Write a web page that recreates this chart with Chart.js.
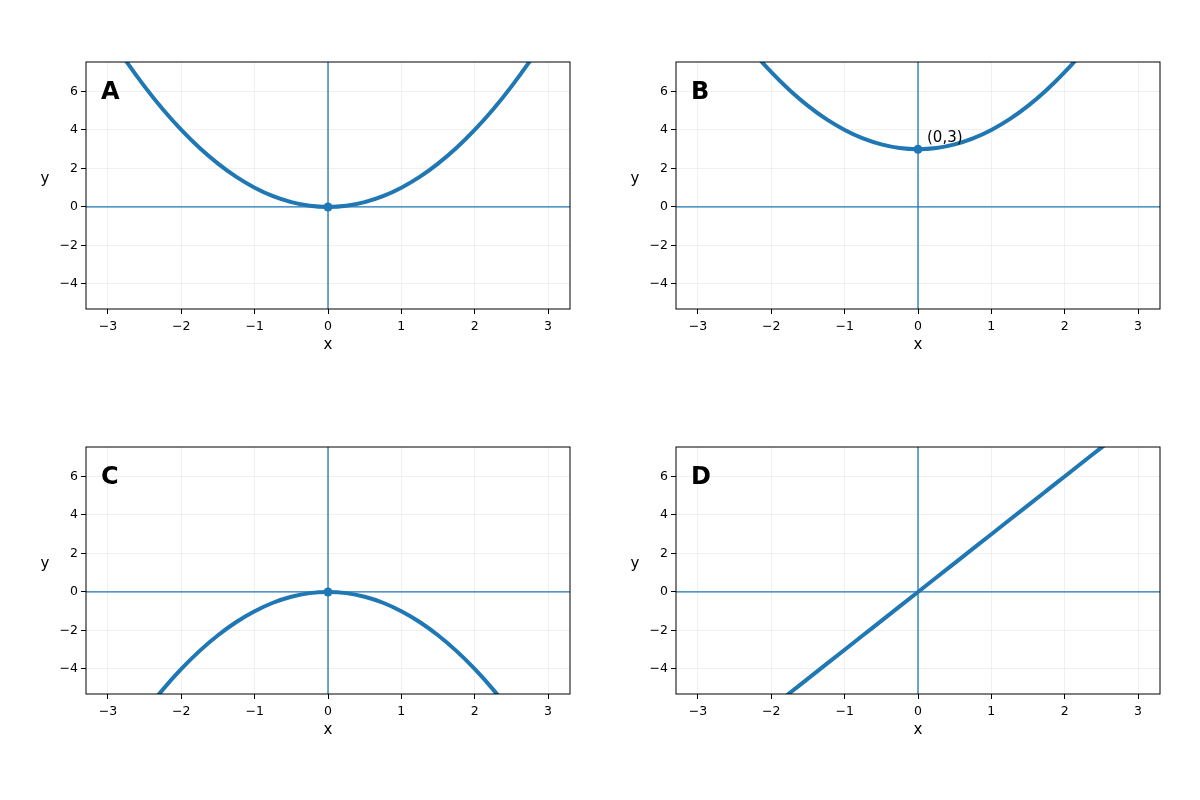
<!DOCTYPE html>
<html>
<head>
<meta charset="utf-8">
<script src="https://cdn.jsdelivr.net/npm/chart.js@4"></script>
<style>
  body { margin: 0; background: #fff; }
  #wrap { position: relative; width: 1200px; height: 800px; }
  .panel { position: absolute; width: 590px; height: 385px; }
</style>
</head>
<body>
<div id="wrap">
  <div class="panel" style="left:0px;top:0px"><canvas id="cA" width="590" height="385"></canvas></div>
  <div class="panel" style="left:590px;top:0px"><canvas id="cB" width="590" height="385"></canvas></div>
  <div class="panel" style="left:0px;top:385px"><canvas id="cC" width="590" height="385"></canvas></div>
  <div class="panel" style="left:590px;top:385px"><canvas id="cD" width="590" height="385"></canvas></div>
</div>
<script>
// sample points
const xs = [-3.25, -3, -2.75, -2.5, -2.25, -2, -1.75, -1.5, -1.25, -1, -0.75, -0.5, -0.25, 0,
            0.25, 0.5, 0.75, 1, 1.25, 1.5, 1.75, 2, 2.25, 2.5, 2.75, 3, 3.25];
const yA = [10.56, 9, 7.56, 6.25, 5.06, 4, 3.06, 2.25, 1.56, 1, 0.56, 0.25, 0.06, 0,
            0.06, 0.25, 0.56, 1, 1.56, 2.25, 3.06, 4, 5.06, 6.25, 7.56, 9, 10.56];
const yB = [13.56, 12, 10.56, 9.25, 8.06, 7, 6.06, 5.25, 4.56, 4, 3.56, 3.25, 3.06, 3,
            3.06, 3.25, 3.56, 4, 4.56, 5.25, 6.06, 7, 8.06, 9.25, 10.56, 12, 13.56];
const yC = [-10.56, -9, -7.56, -6.25, -5.06, -4, -3.06, -2.25, -1.56, -1, -0.56, -0.25, -0.06, 0,
            -0.06, -0.25, -0.56, -1, -1.56, -2.25, -3.06, -4, -5.06, -6.25, -7.56, -9, -10.56];
const yD = [-9.75, -9, -8.25, -7.5, -6.75, -6, -5.25, -4.5, -3.75, -3, -2.25, -1.5, -0.75, 0,
            0.75, 1.5, 2.25, 3, 3.75, 4.5, 5.25, 6, 6.75, 7.5, 8.25, 9, 9.75];

const xTicks = [-3, -2, -1, 0, 1, 2, 3];
const yTicks = [-4, -2, 0, 2, 4, 6];
const xLimits = [-3.3, 3.3];
const yLimits = [-5.3, 7.53];

const letters = ['A', 'B', 'C', 'D'];
const seriesList = [yA, yB, yC, yD];
const vertices = [[0, 0], [0, 3], [0, 0], null];
const notes = [null, '(0,3)', null, null];

const blue = '#1f77b4';
const font = 'DejaVu Sans';

const decor = {
  id: 'decor',
  afterDraw(chart) {
    const ctx = chart.ctx;
    const a = chart.chartArea;
    const o = chart.options.plugins.decor;
    ctx.save();
    ctx.strokeStyle = '#000';
    ctx.lineWidth = 1;
    ctx.strokeRect(a.left, a.top, a.right - a.left, a.bottom - a.top);
    ctx.fillStyle = '#000';
    ctx.font = 'bold 24px "' + font + '"';
    ctx.textAlign = 'left';
    ctx.textBaseline = 'alphabetic';
    ctx.fillText(o.letter, a.left + 15, a.top + 36.5);
    ctx.font = '15px "' + font + '"';
    ctx.textAlign = 'center';
    ctx.textBaseline = 'middle';
    ctx.fillText('x', (a.left + a.right) / 2, a.bottom + 36.5);
    ctx.fillText('y', a.left - 41, (a.top + a.bottom) / 2 - 6);
    if (o.note) {
      const px = chart.scales.x.getPixelForValue(o.vertex[0]);
      const py = chart.scales.y.getPixelForValue(o.vertex[1]);
      ctx.textAlign = 'left';
      ctx.textBaseline = 'alphabetic';
      ctx.fillText(o.note, px + 9, py - 7);
    }
    ctx.restore();
  }
};

function minusSign(v) { return String(v).replace('-', '\u2212'); }

function makePanel(id, i) {
  const ys = seriesList[i];
  const datasets = [
    {
      data: xs.map((x, k) => ({x: x, y: ys[k]})),
      borderColor: blue, borderWidth: 4, pointRadius: 0,
      tension: 0.4, cubicInterpolationMode: 'monotone', clip: 0, order: 1
    },
    {
      data: xLimits.map(x => ({x: x, y: 0})),
      borderColor: blue, borderWidth: 1.3, pointRadius: 0, clip: 0, order: 2
    },
    {
      data: yLimits.map(y => ({x: 0, y: y})),
      borderColor: blue, borderWidth: 1.3, pointRadius: 0, clip: 0, order: 2
    }
  ];
  if (vertices[i]) {
    datasets.push({
      data: [{x: vertices[i][0], y: vertices[i][1]}],
      showLine: false, pointRadius: 4.5, pointBackgroundColor: blue,
      pointBorderColor: blue, pointBorderWidth: 0, order: 0
    });
  }
  new Chart(document.getElementById(id), {
    type: 'line',
    data: {datasets: datasets},
    plugins: [decor],
    options: {
      responsive: false,
      animation: false,
      layout: {padding: {top: 62, left: 0, right: 20, bottom: 16}},
      plugins: {
        legend: {display: false},
        tooltip: {enabled: false},
        decor: {letter: letters[i], note: notes[i], vertex: vertices[i]}
      },
      scales: {
        x: {
          type: 'linear', min: xLimits[0], max: xLimits[1],
          afterBuildTicks: s => { s.ticks = xTicks.map(v => ({value: v})); },
          afterFit: s => { s.height = 60; },
          border: {display: false},
          grid: {color: '#ececec', lineWidth: 0.8, tickColor: '#000', tickLength: 5, tickWidth: 1},
          ticks: {color: '#000', font: {family: font, size: 12.5}, padding: 5,
                  maxRotation: 0, autoSkip: false, callback: v => minusSign(v)}
        },
        y: {
          type: 'linear', min: yLimits[0], max: yLimits[1],
          afterBuildTicks: s => { s.ticks = yTicks.map(v => ({value: v})); },
          afterFit: s => { s.width = 86; },
          border: {display: false},
          grid: {color: '#ececec', lineWidth: 0.8, tickColor: '#000', tickLength: 5, tickWidth: 1},
          ticks: {color: '#000', font: {family: font, size: 12.5}, padding: 3,
                  callback: v => minusSign(v)}
        }
      }
    }
  });
}

['cA', 'cB', 'cC', 'cD'].forEach((id, i) => makePanel(id, i));
</script>
</body>
</html>
